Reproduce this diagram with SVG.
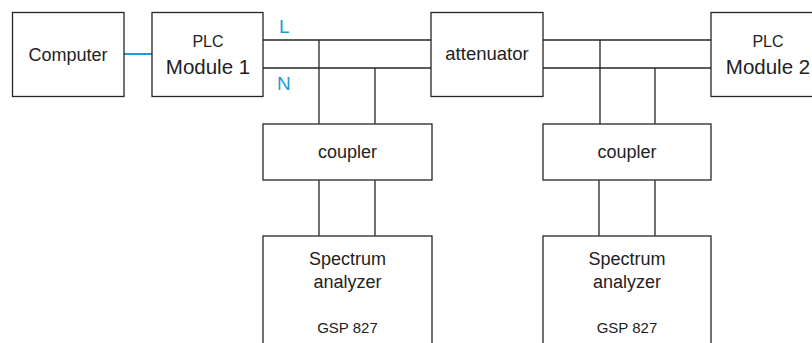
<svg xmlns="http://www.w3.org/2000/svg" width="812" height="343" viewBox="0 0 812 343">
<style>
.box{fill:#fff;stroke:#262626;stroke-width:1.3}
.w{fill:none;stroke:#262626;stroke-width:1.3}
.t{font-family:"Liberation Sans",Arial,sans-serif;fill:#222;text-anchor:middle}
.b{font-family:"Liberation Sans",Arial,sans-serif;fill:#1e9bd7;font-size:19px}
</style>
<rect width="812" height="343" fill="#fff"/>
<g id="connectors">
<line class="w" x1="124" y1="54" x2="152" y2="54" style="stroke:#1e9bd7;stroke-width:2"/>
<path class="w" d="M263 40H431M263 68H431M543 40H711M543 68H711"/>
<path class="w" d="M319 40V124M375 68V124M600 40V124M655 68V124"/>
<path class="w" d="M319 180V236M375 180V236M599 180V236M655 180V236"/>
</g>
<g id="labels">
<text class="b" x="279" y="33">L</text>
<text class="b" x="277" y="90">N</text>
</g>
<g id="computer">
<rect class="box" x="12.5" y="12.5" width="111.5" height="84"/>
<text class="t" x="68" y="61" font-size="18">Computer</text>
</g>
<g id="plc1">
<rect class="box" x="152" y="12.5" width="111" height="84"/>
<text class="t" x="208" y="47" font-size="16">PLC</text>
<text class="t" x="208" y="74" font-size="20.5">Module 1</text>
</g>
<g id="attenuator">
<rect class="box" x="431" y="12.5" width="112" height="84"/>
<text class="t" x="487" y="60" font-size="18.5">attenuator</text>
</g>
<g id="plc2">
<rect class="box" x="711" y="12.5" width="111" height="84"/>
<text class="t" x="768" y="47" font-size="16">PLC</text>
<text class="t" x="768" y="74" font-size="20.5">Module 2</text>
</g>
<g id="coupler1">
<rect class="box" x="263" y="124" width="169" height="56"/>
<text class="t" x="347.5" y="158" font-size="18">coupler</text>
</g>
<g id="coupler2">
<rect class="box" x="543" y="124" width="168" height="56"/>
<text class="t" x="627" y="158" font-size="18">coupler</text>
</g>
<g id="analyzer1">
<rect class="box" x="263" y="236" width="169" height="120"/>
<text class="t" x="347.5" y="265" font-size="18">Spectrum</text>
<text class="t" x="347.5" y="288" font-size="18">analyzer</text>
<text class="t" x="347.5" y="333" font-size="15">GSP 827</text>
</g>
<g id="analyzer2">
<rect class="box" x="543" y="236" width="168" height="120"/>
<text class="t" x="627" y="265" font-size="18">Spectrum</text>
<text class="t" x="627" y="288" font-size="18">analyzer</text>
<text class="t" x="627" y="333" font-size="15">GSP 827</text>
</g>
</svg>
